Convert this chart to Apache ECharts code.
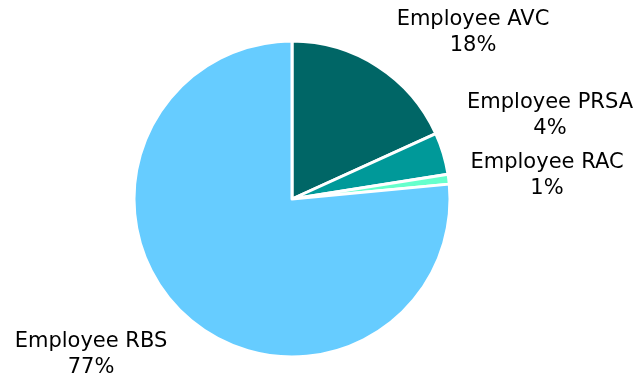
<!DOCTYPE html>
<html>
<head>
<meta charset="utf-8">
<script src="https://cdn.jsdelivr.net/npm/echarts@6/dist/echarts.min.js"></script>
<style>
  html, body { margin: 0; padding: 0; background: #fff; }
  #chart { width: 637px; height: 376px; }
</style>
</head>
<body>
<div id="chart"></div>
<script>
// Contribution types and their shares
const categories = ['Employee AVC', 'Employee PRSA', 'Employee RAC', 'Employee RBS'];
const shares = [18.2, 4.3, 1.0, 76.5];
const colors = ['#006666', '#009999', '#66ffcc', '#66ccff'];

// Where each label block sits (centre of the two-line text)
const labelSpots = [[473, 33], [550, 116], [547, 176], [91, 355]];

const chart = echarts.init(document.getElementById('chart'), null, { renderer: 'canvas' });

chart.setOption({
  animation: false,
  series: [{
    type: 'pie',
    center: [292, 199],
    radius: 158,
    startAngle: 90,
    clockwise: true,
    data: categories.map((name, i) => ({
      name,
      value: shares[i],
      itemStyle: { color: colors[i] }
    })),
    itemStyle: { borderColor: '#ffffff', borderWidth: 3 },
    label: {
      show: true,
      position: 'outside',
      formatter: p => p.name + '\n' + Math.round(p.percent) + '%',
      fontFamily: 'DejaVu Sans, Verdana, sans-serif',
      fontSize: 21,
      lineHeight: 26,
      color: '#000000',
      align: 'center',
      overflow: 'none',
      width: 220
    },
    labelLine: { show: false },
    labelLayout: p => ({
      x: labelSpots[p.dataIndex][0],
      y: labelSpots[p.dataIndex][1],
      align: 'center',
      verticalAlign: 'middle'
    }),
    emphasis: { disabled: true }
  }]
});
</script>
</body>
</html>
